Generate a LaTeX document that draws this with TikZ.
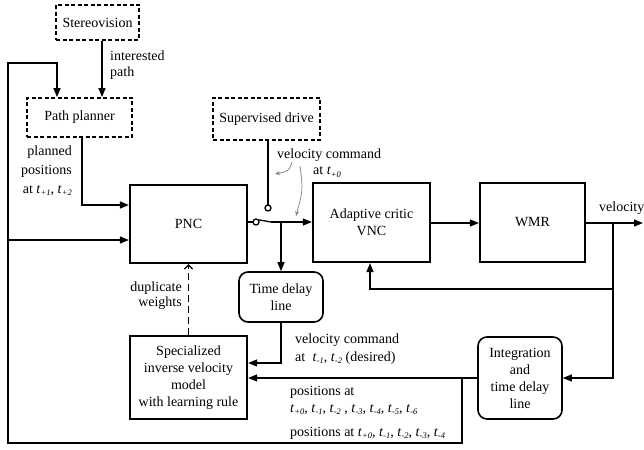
\documentclass[tikz,border=0pt]{standalone}
\usepackage{fontspec}
\setmainfont{Liberation Serif}
\usetikzlibrary{arrows.meta}

% time index with a small italic subscript, e.g. \tsb{+1}
\newcommand\tsb[1]{\textit{t}\raisebox{-2.6pt}{\fontsize{8.5}{9}\selectfont\textit{#1}}}

\begin{document}
\begin{tikzpicture}[x=1pt,y=-1pt,
  font=\fontsize{14}{17}\selectfont,
  box/.style={draw, line width=2.2pt, inner sep=0pt, align=center},
  dbox/.style={draw, line width=1.8pt, dash pattern=on 4pt off 2.5pt, inner sep=0pt, align=center},
  rbox/.style={draw, line width=1.6pt, rounded corners=9pt, inner sep=0pt, align=center},
  wire/.style={line width=1.3pt},
  conn/.style={wire, -{Triangle[length=9pt,width=7pt]}},
  weightlink/.style={line width=1.3pt, dash pattern=on 7pt off 4pt, -{Straight Barb[length=4pt,width=8pt]}},
  hint/.style={gray, line width=0.7pt, -{Stealth[length=5pt,width=4pt]}},
  note/.style={inner sep=0pt},
]
\useasboundingbox (0,0) rectangle (644,449);

% blocks
\node[dbox, minimum width=83pt, minimum height=35pt] (stereo) at (97.5,22.5) {Stereovision};
\node[dbox, minimum width=105pt, minimum height=39pt] (planner) at (79.5,117.5) {Path planner};
\node[dbox, minimum width=107pt, minimum height=42pt] (drive) at (266.5,119) {Supervised drive};
\node[box, minimum width=117pt, minimum height=78pt] (pnc) at (188.5,224) {PNC};
\node[box, minimum width=117pt, minimum height=79pt] (vnc) at (371.5,222.5) {Adaptive critic\\VNC};
\node[box, minimum width=105pt, minimum height=79pt] (wmr) at (532.5,222.5) {WMR};
\node[rbox, minimum width=84pt, minimum height=50pt] (tdl) at (281,297) {Time delay\\line};
\node[box, minimum width=117pt, minimum height=83pt] (sivm) at (188.5,377.5) {Specialized\\inverse velocity\\model\\with learning rule};
\node[rbox, minimum width=84pt, minimum height=82pt] (itdl) at (520,378) {Integration\\and\\time delay\\line};

% branch points and loop corners
\coordinate (j1) at (281,222);
\coordinate (j2) at (613,223);
\coordinate (j3) at (613,289);
\coordinate (j4) at (462,378);
\coordinate (vout) at (643,223);
\coordinate (c1) at (8,63);
\coordinate (c2) at (8,443);
\coordinate (c3) at (8,240);
\coordinate (sw) at (256,222);
\coordinate (swup) at (268,208);
\coordinate (swend) at (271,222);

% planning inputs
\draw[conn] ([xshift=4.5pt]stereo.south) -- ([xshift=4.5pt]stereo.south |- planner.north);
\draw[conn] (j4) |- (c2) -- (c1) -| ([xshift=-22.5pt]planner.north);
\draw[conn] (c3) -- (c3 -| pnc.west);
\draw[conn] (planner.south -| 82,0) |- (pnc.west |- 0,205);

% switch between PNC and supervised drive
\draw[wire] (drive.south -| swup) -- ([yshift=3pt]swup);
\draw[wire, fill=white] (swup) circle (3pt);
\draw[wire] (pnc.east |- sw) -- ([xshift=-3pt]sw);
\draw[wire] (sw) circle (3pt);
\draw[wire] (258.5,219.8) -- (swend);
\draw[conn] (swend) -- (vnc.west |- swend);
\draw[conn] (j1) -- (tdl.north);

% forward path and feedback
\draw[conn] (vnc.east |- 0,223) -- (wmr.west |- 0,223);
\draw[conn] (wmr.east |- 0,223) -- (vout);
\draw[conn] (j2) |- (itdl.east);
\draw[conn] (j3) -| (vnc.south -| 370,0);
\draw[conn] (itdl.west) -- (sivm.east |- itdl.west);
\draw[conn] (tdl.south) |- (sivm.east |- 0,363);
\draw[weightlink] (sivm.north) -- (pnc.south);

% pointers for the velocity command label
\draw[hint] (292,162) .. controls (289,171) .. (275,174);
\draw[hint] (300,166) .. controls (303,190) .. (296,216);

% labels
\node[note, anchor=base west] (lint) at (110,61) {interested};
\node[note, anchor=base west] (lpath) at (110,77) {path};
\node[note, anchor=base east] (lplan1) at (72,156) {planned};
\node[note, anchor=base east] (lplan2) at (72,175) {positions};
\node[note, anchor=base east] (lplan3) at (72,193) {at \tsb{+1}, \tsb{+2}};
\node[note, anchor=base west] (lvc1) at (277,158) {velocity command};
\node[note, anchor=base west] (lvc2) at (313,175) {at \tsb{+0}};
\node[note, anchor=base west] (lvel) at (599,211) {velocity};
\node[note, anchor=base east] (ldup1) at (182,291) {duplicate};
\node[note, anchor=base east] (ldup2) at (182,306) {weights};
\node[note, anchor=base west] (ldes1) at (295,343) {velocity command};
\node[note, anchor=base west] (ldes2) at (295,361) {at\; \tsb{-1}, \tsb{-2} (desired)};
\node[note, anchor=base west] (lpos1) at (290,395) {positions at};
\node[note, anchor=base west] (lpos2) at (290,412) {\tsb{+0}, \tsb{-1}, \tsb{-2} , \tsb{-3}, \tsb{-4}, \tsb{-5}, \tsb{-6}};
\node[note, anchor=base west] (lpos3) at (290,436) {positions at \tsb{+0}, \tsb{-1}, \tsb{-2}, \tsb{-3}, \tsb{-4}};
\end{tikzpicture}
\end{document}
